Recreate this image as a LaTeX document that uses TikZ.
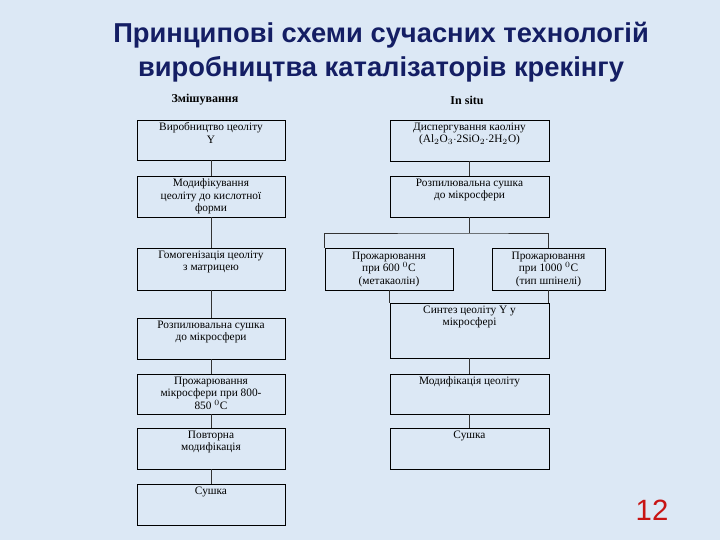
\documentclass[tikz,border=0pt]{standalone}
\usepackage{fontspec}
\setmainfont{Liberation Serif}
\newfontfamily\ttlfont{Liberation Sans}
\begin{document}
\begin{tikzpicture}[x=0.75pt,y=-0.75pt,
  box/.style={draw=black,line width=0.6pt,inner sep=0pt},
  txt/.style={anchor=north,align=center,font=\fontsize{8.5}{9.5}\selectfont,inner sep=1pt},
  ln/.style={draw=black!80,line width=0.5pt}]
\useasboundingbox (0,0) rectangle (720,540);
\fill[fill={rgb,255:red,220;green,232;blue,245}] (0,0) rectangle (720,540);
\node[font=\ttlfont\bfseries\fontsize{20.5}{26}\selectfont,text={rgb,255:red,20;green,30;blue,100},align=center] (title) at (381,52) {Принципові схеми сучасних технологій\\виробництва каталізаторів крекінгу};
\node[font=\bfseries\fontsize{9}{10}\selectfont] (h1) at (205,100) {Змішування};
\node[font=\bfseries\fontsize{9}{10}\selectfont] (h2) at (467,100) {In situ};
% left column
\foreach \n/\ya/\yb/\t in {L1/120/160/{Виробництво цеоліту\\Y},L2/176/217/{Модифікування\\цеоліту до кислотної\\форми},L3/248/290/{Гомогенізація цеоліту\\з матрицею},L4/318/359/{Розпилювальна сушка\\до мікросфери},L5/374/414/{Прожарювання\\мікросфери при 800-\\850 $^0$C},L6/428/469/{Повторна\\модифікація},L7/484/525/{Сушка}}{
  \node[box,minimum width=148*0.75pt,minimum height={(\yb-\ya)*0.75pt}] (\n) at (211,{(\ya+\yb)/2}) {};
  \node[txt] (\n t) at (211,{\ya+1}) {\t};
}
% right column
\foreach \n/\ya/\yb/\t in {R1/120/161/{Диспергування каоліну\\(Al$_2$O$_3$$\cdot$2SiO$_2$$\cdot$2H$_2$O)},R2/176/217/{Розпилювальна сушка\\до мікросфери},R3/303/358/{Синтез цеоліту Y у\\мікросфері},R4/374/414/{Модифікація цеоліту},R5/428/469/{Сушка}}{
  \node[box,minimum width=159*0.75pt,minimum height={(\yb-\ya)*0.75pt}] (\n) at (469.5,{(\ya+\yb)/2}) {};
  \node[txt] (\n t) at (469.5,{\ya+1}) {\t};
}
\node[box,minimum width=128*0.75pt,minimum height=42*0.75pt] (S1) at (389,269) {};
\node[txt] (S1t) at (389,250) {Прожарювання\\при 600 $^0$C\\(метакаолін)};
\node[box,minimum width=113*0.75pt,minimum height=42*0.75pt] (S2) at (548.5,269) {};
\node[txt] (S2t) at (548.5,250) {Прожарювання\\при 1000 $^0$C\\(тип шпінелі)};
% connectors
\foreach \a/\b in {L1/L2,L2/L3,L3/L4,L4/L5,L5/L6,L6/L7,R1/R2,R3/R4,R4/R5}{\draw[ln] (\a.south) -- (\b.north);}
\coordinate (br) at (469.5,233);
\draw[ln] (R2.south) -- (br);
\draw[ln] (S1.north west) |- (br) -| (S2.north);
\draw[ln] (S1.south) -- (S1.south |- R3.north);
\draw[ln] (S2.south) -- (S2.south |- R3.north);
\node[font=\ttlfont\fontsize{22}{24}\selectfont,text={rgb,255:red,200;green,20;blue,20}] (num) at (652,510) {12};
\end{tikzpicture}
\end{document}
